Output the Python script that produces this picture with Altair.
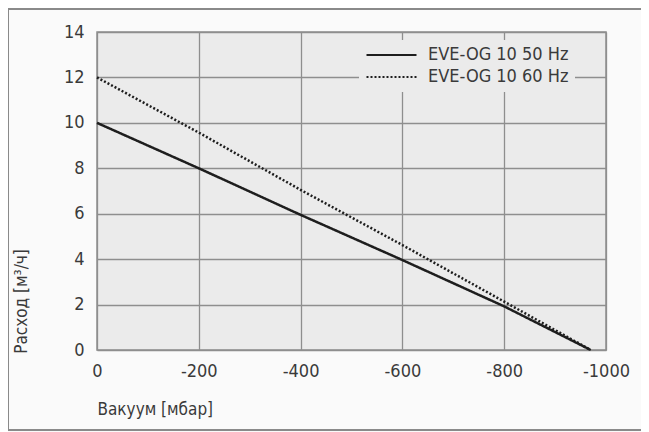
import altair as alt
import pandas as pd

# Data
vacuum_50 = [0, -200, -400, -600, -800, -970]
flow_50 = [10.0, 8.0, 5.95, 3.96, 1.92, 0.0]
vacuum_60 = [0, -200, -400, -600, -800, -970]
flow_60 = [12.0, 9.57, 7.05, 4.62, 2.13, 0.0]
series_names = ["EVE-OG 10 50 Hz", "EVE-OG 10 60 Hz"]
x_ticks = [0, -200, -400, -600, -800, -1000]
y_ticks = [0, 2, 4, 6, 8, 10, 12, 14]

rows = []
for v, f in zip(vacuum_50, flow_50):
    rows.append({"vac": v, "flow": f, "series": series_names[0]})
for v, f in zip(vacuum_60, flow_60):
    rows.append({"vac": v, "flow": f, "series": series_names[1]})
df = pd.DataFrame(rows)

FONT = "DejaVu Sans Condensed, Liberation Sans Narrow, sans-serif"
TXT = "#3a3a3a"
GRID = "#8e8e8e"

lines = alt.Chart(df).mark_line(strokeWidth=2.5, strokeCap="butt", color="#1e1e1e").encode(
    x=alt.X("vac:Q",
            scale=alt.Scale(domain=[0, -1000], nice=False),
            axis=alt.Axis(values=x_ticks, title="Вакуум [мбар]",
                          labelExpr="datum.value == 0 ? '0' : '-' + abs(datum.value)",
                          labelFlush=False,
                          titleAnchor="start", titleAlign="left",
                          titleX=0, titleY=59, titleBaseline="middle",
                          labelPadding=12)),
    y=alt.Y("flow:Q",
            scale=alt.Scale(domain=[0, 14], nice=False),
            axis=alt.Axis(values=y_ticks, title="Расход [м³/ч]",
                          titleAngle=-90, titleX=-76, titleY=269,
                          titleAlign="center", titleBaseline="middle",
                          labelPadding=13)),
    strokeDash=alt.StrokeDash("series:N",
                              scale=alt.Scale(domain=series_names, range=[[1, 0], [2, 2]]),
                              legend=alt.Legend(title=None, orient="none",
                                                legendX=262, legendY=8,
                                                symbolType="stroke", symbolSize=2500,
                                                symbolStrokeWidth=2.2,
                                                symbolStrokeColor="#1e1e1e",
                                                clipHeight=18,
                                                labelFontSize=18, labelFont=FONT,
                                                labelColor=TXT, labelOffset=10,
                                                rowPadding=4, padding=6,
                                                fillColor="#ebebeb",
                                                labelLimit=300)),
)

frame = alt.Chart(df).mark_rule(color="#8a8a8a", strokeWidth=2).encode(
    x=alt.value(-89), y=alt.value(-23), y2=alt.value(398)
)
frame_bottom = alt.Chart(df).mark_rule(color="#8a8a8a", strokeWidth=2).encode(
    x=alt.value(-89), x2=alt.value(545), y=alt.value(398)
)
frame_top = alt.Chart(df).mark_rule(color="#8a8a8a", strokeWidth=2).encode(
    x=alt.value(-89), x2=alt.value(545), y=alt.value(-23)
)

chart = alt.layer(lines, frame, frame_bottom, frame_top).properties(
    width=509, height=318,
    autosize=alt.AutoSizeParams(type="none"),
    padding={"left": 89, "top": 24, "right": 35, "bottom": 82},
    background="#fafafa",
).configure_view(
    fill="#ebebeb", stroke=GRID, strokeWidth=1.5
).configure_axis(
    grid=True, gridColor=GRID, gridWidth=1.3, domain=False, ticks=False,
    labelFont=FONT, labelFontSize=18, labelColor=TXT,
    titleFont=FONT, titleFontSize=17, titleColor=TXT, titleFontWeight="normal",
)

chart.save("out.html", embed_options={"renderer": "svg", "actions": False})
